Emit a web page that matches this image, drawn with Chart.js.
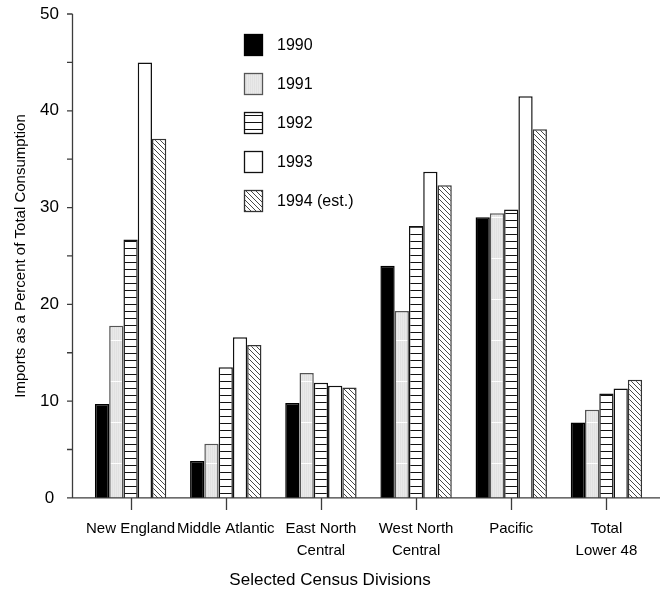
<!DOCTYPE html>
<html>
<head>
<meta charset="utf-8">
<script src="https://cdn.jsdelivr.net/npm/chart.js@4/dist/chart.umd.min.js"></script>
<style>
  html, body { margin: 0; padding: 0; background: #fff; }
  #wrap { width: 660px; height: 590px; position: relative; }
</style>
</head>
<body>
<div id="wrap"><canvas id="c" width="660" height="590"></canvas></div>
<script>
// ---- data ----
const categories = ['New England', 'Middle Atlantic', ['East North', 'Central'], ['West North', 'Central'], 'Pacific', ['Total', 'Lower 48']];
const seriesLabels = ['1990', '1991', '1992', '1993', '1994 (est.)'];
const v1990 = [9.7, 3.8, 9.8, 24.0, 29.0, 7.8];
const v1991 = [17.8, 5.6, 12.9, 19.3, 29.4, 9.1];
const v1992 = [26.7, 13.5, 11.9, 28.1, 29.8, 10.8];
const v1993 = [45.0, 16.6, 11.6, 33.7, 41.5, 11.3];
const v1994 = [37.1, 15.8, 11.4, 32.3, 38.1, 12.2];
const yTickValues = [0, 5, 10, 15, 20, 25, 30, 35, 40, 45, 50];
const yTitle = 'Imports as a Percent of Total Consumption';
const xTitle = 'Selected Census Divisions';

const FONT = "'Liberation Sans', Arial, Helvetica, sans-serif";

// ---- fill patterns ----
function makePattern(w, h, draw) {
  const cv = document.createElement('canvas');
  cv.width = w; cv.height = h;
  const g = cv.getContext('2d');
  draw(g, w, h);
  return document.getElementById('c').getContext('2d').createPattern(cv, 'repeat');
}
const patGray = makePattern(4, 41, (g, w, h) => {
  g.fillStyle = '#e9e9e9'; g.fillRect(0, 0, w, h);
  g.fillStyle = '#e1e1e1'; g.fillRect(0, 0, 1, h); g.fillRect(2, 0, 1, h);
  g.fillStyle = '#ffffff'; g.fillRect(0, 12, w, 1);
});
const patHoriz = makePattern(4, 7, (g, w, h) => {
  g.fillStyle = '#ffffff'; g.fillRect(0, 0, w, h);
  g.fillStyle = '#111111'; g.fillRect(0, 3, w, 1);
});
const patDiag = makePattern(5, 5, (g, w, h) => {
  g.fillStyle = '#ffffff'; g.fillRect(0, 0, w, h);
  g.strokeStyle = '#333333'; g.lineWidth = 0.9;
  g.beginPath();
  g.moveTo(-1, -1); g.lineTo(w + 1, h + 1);
  g.moveTo(-1, h - 1); g.lineTo(1, h + 1);
  g.moveTo(w - 1, -1); g.lineTo(w + 1, 1);
  g.stroke();
});

const fills = ['#000000', patGray, patHoriz, '#ffffff', patDiag];
const borders = ['#000000', '#555555', '#111111', '#111111', '#333333'];
const seriesValues = [v1990, v1991, v1992, v1993, v1994];

const datasets = seriesLabels.map((lab, i) => ({
  label: lab,
  data: seriesValues[i],
  backgroundColor: fills[i],
  borderColor: borders[i],
  borderWidth: 1.5,
  categoryPercentage: 0.75,
  barPercentage: 1.0
}));

// ---- custom axes, x title & legend drawing ----
const axesPlugin = {
  id: 'axesPlugin',
  afterDatasetsDraw(chart) {
    const ctx = chart.ctx;
    const ya = chart.scales.y, xa = chart.scales.x;
    const ax = Math.round(chart.chartArea.left - 11) + 0.5;
    const y0 = ya.getPixelForValue(0);
    ctx.save();
    ctx.strokeStyle = '#3c3c3c';
    ctx.lineWidth = 1.3;
    ctx.beginPath();
    ctx.moveTo(ax, ya.getPixelForValue(50));
    ctx.lineTo(ax, y0);
    yTickValues.forEach(v => {
      const py = ya.getPixelForValue(v);
      ctx.moveTo(ax - 5.5, py);
      ctx.lineTo(ax, py);
    });
    ctx.moveTo(ax, y0);
    ctx.lineTo(chart.width, y0);
    categories.forEach((c, i) => {
      const px = Math.round(xa.getPixelForTick(i)) + 0.5;
      ctx.moveTo(px, y0);
      ctx.lineTo(px, y0 + 12);
    });
    ctx.stroke();
    ctx.restore();
  },
  afterDraw(chart) {
    const ctx = chart.ctx;
    ctx.save();
    // x-axis title, centred on the figure
    ctx.font = '17px ' + FONT;
    ctx.fillStyle = '#000';
    ctx.textAlign = 'center';
    ctx.textBaseline = 'alphabetic';
    ctx.fillText(xTitle, chart.width / 2, 585);
    // legend
    const bx = 244, by0 = 34, step = 39, bw = 19, bh = 22;
    ctx.font = '16px ' + FONT;
    ctx.textBaseline = 'middle';
    ctx.textAlign = 'left';
    chart.data.datasets.forEach((ds, i) => {
      const y = by0 + i * step;
      ctx.fillStyle = ds.backgroundColor;
      ctx.fillRect(bx, y, bw, bh);
      ctx.strokeStyle = ds.borderColor;
      ctx.lineWidth = 1.3;
      ctx.strokeRect(bx + 0.5, y + 0.5, bw - 1, bh - 1);
      ctx.fillStyle = '#000';
      ctx.fillText(ds.label, 277, y + bh / 2 + 1);
    });
    ctx.restore();
  }
};

new Chart(document.getElementById('c'), {
  type: 'bar',
  data: { labels: categories, datasets },
  plugins: [axesPlugin],
  options: {
    responsive: false,
    animation: false,
    layout: { padding: { top: 14, right: 6, bottom: 8, left: 0 } },
    plugins: {
      legend: { display: false },
      tooltip: { enabled: false },
      title: { display: false }
    },
    scales: {
      x: {
        afterFit(scale) { scale.paddingLeft = 0; scale.paddingRight = 0; },
        grid: { display: false, drawTicks: false },
        border: { display: false },
        ticks: {
          autoSkip: false, maxRotation: 0, minRotation: 0,
          color: '#000', padding: 20,
          font: { family: FONT, size: 15, lineHeight: 1.47 }
        }
      },
      y: {
        min: 0, max: 50,
        afterFit(scale) { scale.width = 83; scale.paddingTop = 0; scale.paddingBottom = 0; },
        grid: { display: false, drawTicks: false },
        border: { display: false },
        ticks: {
          stepSize: 10, color: '#000', padding: 24, crossAlign: 'center',
          font: { family: FONT, size: 17 }
        },
        title: {
          display: true, text: yTitle, color: '#000',
          font: { family: FONT, size: 15 },
          padding: { top: 12, bottom: 4 }
        }
      }
    }
  }
});
</script>
</body>
</html>
